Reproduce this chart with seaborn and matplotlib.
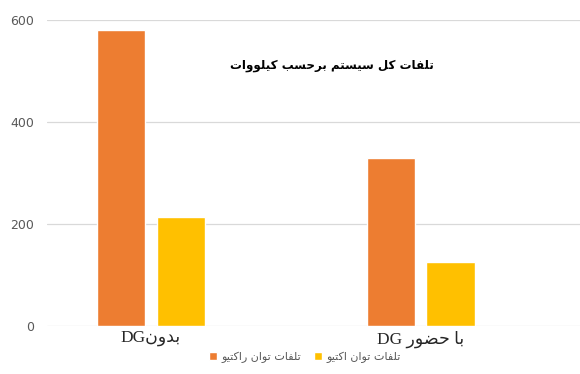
import matplotlib
matplotlib.use("Agg")
import matplotlib.pyplot as plt
import seaborn as sns
import pandas as pd

# ---- data ----
categories = ["بدونDG", "با حضور DG"]
series_names = ["تلفات توان راکتیو", "تلفات توان اکتیو"]
reactive_loss = [580, 330]
active_loss = [213, 125]
y_ticks = [0, 200, 400, 600]
title_text = "تلفات کل سیستم برحسب کیلووات"

# ---- minimal Arabic/Persian shaping (presentation forms + visual order) ----
FORMS = {
    "ا": ("\uFE8D", "\uFE8E", None, None),
    "ب": ("\uFE8F", "\uFE90", "\uFE91", "\uFE92"),
    "ت": ("\uFE95", "\uFE96", "\uFE97", "\uFE98"),
    "ح": ("\uFEA1", "\uFEA2", "\uFEA3", "\uFEA4"),
    "د": ("\uFEA9", "\uFEAA", None, None),
    "ر": ("\uFEAD", "\uFEAE", None, None),
    "س": ("\uFEB1", "\uFEB2", "\uFEB3", "\uFEB4"),
    "ض": ("\uFEBD", "\uFEBE", "\uFEBF", "\uFEC0"),
    "ف": ("\uFED1", "\uFED2", "\uFED3", "\uFED4"),
    "ک": ("\uFB8E", "\uFB8F", "\uFB90", "\uFB91"),
    "ل": ("\uFEDD", "\uFEDE", "\uFEDF", "\uFEE0"),
    "م": ("\uFEE1", "\uFEE2", "\uFEE3", "\uFEE4"),
    "ن": ("\uFEE5", "\uFEE6", "\uFEE7", "\uFEE8"),
    "و": ("\uFEED", "\uFEEE", None, None),
    "ی": ("\uFBFC", "\uFBFD", "\uFBFE", "\uFBFF"),
}


def _is_ar(c):
    return c in FORMS


def _dual(c):
    return c in FORMS and FORMS[c][2] is not None


def _shape_run(run):
    out = []
    for i, c in enumerate(run):
        if c not in FORMS:
            out.append(c)
            continue
        prev = run[i - 1] if i > 0 else ""
        nxt = run[i + 1] if i + 1 < len(run) else ""
        jp = _dual(prev)
        jn = _dual(c) and _is_ar(nxt)
        iso, fin, ini, med = FORMS[c]
        if jp and jn:
            out.append(med)
        elif jp:
            out.append(fin)
        elif jn:
            out.append(ini)
        else:
            out.append(iso)
    return "".join(out)[::-1]


def rtl(text):
    runs = []
    cur, cur_ar = "", None
    for c in text:
        a = _is_ar(c) or (c == " " and cur_ar)
        if cur_ar is None or a == cur_ar:
            cur += c
            cur_ar = a if cur_ar is None else cur_ar
        else:
            runs.append((cur, cur_ar))
            cur, cur_ar = c, a
    if cur:
        runs.append((cur, cur_ar))
    parts = [_shape_run(r) if ar else r for r, ar in runs]
    return "".join(parts[::-1])


# ---- figure ----
sns.set_theme(style="white")
plt.rcParams["font.family"] = ["DejaVu Sans"]

df = pd.DataFrame({
    "category": [rtl(c) for c in categories] * 2,
    "series": [rtl(series_names[0])] * 2 + [rtl(series_names[1])] * 2,
    "value": reactive_loss + active_loss,
})

fig = plt.figure(figsize=(5.8, 3.74), dpi=100)
ax = fig.add_axes([0.081, 0.128, 0.919, 0.8185])

palette = ["#ED7D31", "#FFC000"]
sns.barplot(data=df, x="category", y="value", hue="series", palette=palette,
            width=0.44, gap=0.19, saturation=1, ax=ax, legend=True,
            err_kws={"linewidth": 0})

ax.set_ylim(0, 600)
ax.set_xlim(-0.385, 1.59)
ax.set_yticks(y_ticks)
ax.grid(axis="y", color="#D9D9D9", linewidth=0.9)
ax.set_axisbelow(True)
for s in ax.spines.values():
    s.set_visible(False)
ax.set_xlabel("")
ax.set_ylabel("")
ax.tick_params(axis="y", length=0, pad=9, labelsize=9, labelcolor="#595959")
ax.tick_params(axis="x", length=0, pad=3)
for lbl in ax.get_xticklabels():
    lbl.set_fontfamily(["Liberation Serif", "DejaVu Sans"])
    lbl.set_fontsize(12.5)
    lbl.set_color("#262626")

handles, labels = ax.get_legend_handles_labels()
ax.legend(handles, labels, loc="center", bbox_to_anchor=(305 / 580, 1 - 357 / 374),
          bbox_transform=fig.transFigure, ncol=2, frameon=False, fontsize=8,
          handlelength=0.7, handleheight=0.7, handletextpad=0.4, columnspacing=1.2,
          labelcolor="#595959")

fig.text(332 / 580, 1 - 65 / 374, rtl(title_text), ha="center", va="center",
         fontsize=8.6, fontweight="bold", color="black")

fig.savefig("out.png", dpi=100)
